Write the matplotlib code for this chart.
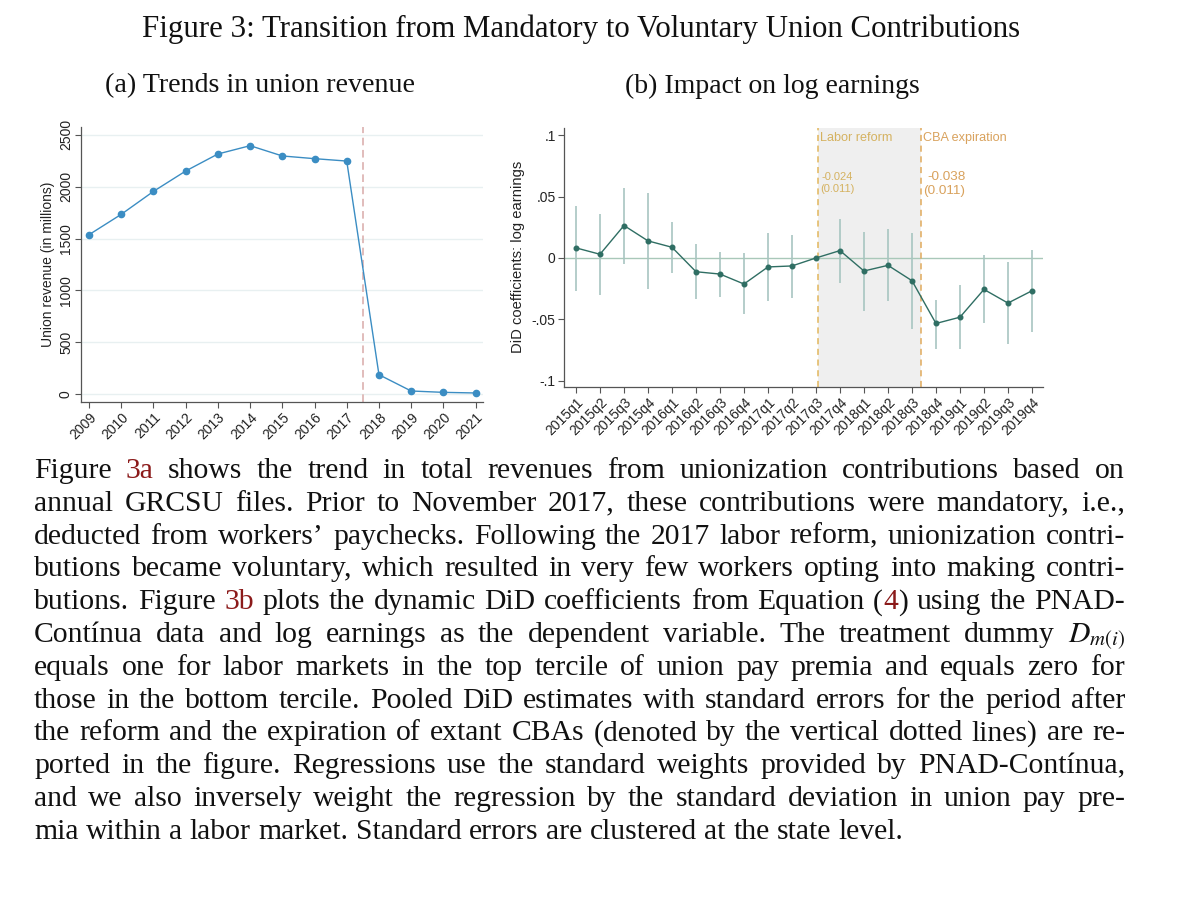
import re
import matplotlib
matplotlib.use("Agg")
import matplotlib.pyplot as plt
import numpy as np

# panel (a): union revenue by year (millions)
years = [2009, 2010, 2011, 2012, 2013, 2014, 2015, 2016, 2017, 2018, 2019, 2020, 2021]
revenue = [1537, 1733, 1954, 2150, 2314, 2394, 2295, 2269, 2246, 189, 32, 19, 13]

# panel (b): dynamic DiD coefficients with confidence bands
quarters = ["2015q1", "2015q2", "2015q3", "2015q4", "2016q1", "2016q2", "2016q3", "2016q4",
            "2017q1", "2017q2", "2017q3", "2017q4", "2018q1", "2018q2", "2018q3", "2018q4",
            "2019q1", "2019q2", "2019q3", "2019q4"]
did_coef = [0.0082, 0.0030, 0.0264, 0.0139, 0.0087, -0.0112, -0.0131, -0.0212, -0.0073, -0.0065,
            0.0, 0.0060, -0.0106, -0.0060, -0.0185, -0.0533, -0.0482, -0.0256, -0.0367, -0.0267]
did_hi = [0.0424, 0.0360, 0.0570, 0.0530, 0.0290, 0.0114, 0.0046, 0.0038, 0.0200, 0.0190,
          0.0, 0.0320, 0.0215, 0.0237, 0.0207, -0.0340, -0.0223, 0.0027, -0.0035, 0.0065]
did_lo = [-0.0269, -0.0300, -0.0046, -0.0256, -0.0125, -0.0337, -0.0316, -0.0460, -0.0354, -0.0324,
          0.0, -0.0204, -0.0430, -0.0350, -0.0574, -0.0737, -0.0740, -0.0533, -0.0700, -0.0600]
reform_x = 10.07
cba_x = 14.38
pooled = [("-0.024", "(0.011)"), ("-0.038", "(0.011)")]

title = "Figure 3: Transition from Mandatory to Voluntary Union Contributions"
sub_a = "(a) Trends in union revenue"
sub_b = "(b) Impact on log earnings"

# caption lines, [..] marks the red cross-reference parts
caption = [
    "Figure [3a] shows the trend in total revenues from unionization contributions based on",
    "annual GRCSU files.  Prior to November 2017, these contributions were mandatory, i.e.,",
    "deducted from workers\u2019 paychecks. Following the 2017 labor reform, unionization contri-",
    "butions became voluntary, which resulted in very few workers opting into making contri-",
    "butions. Figure [3b] plots the dynamic DiD coefficients from Equation ([4]) using the PNAD-",
    "Cont\u00ednua data and log earnings as the dependent variable.  The treatment dummy $D_{m(i)}$",
    "equals one for labor markets in the top tercile of union pay premia and equals zero for",
    "those in the bottom tercile. Pooled DiD estimates with standard errors for the period after",
    "the reform and the expiration of extant CBAs (denoted by the vertical dotted lines) are re-",
    "ported in the figure. Regressions use the standard weights provided by PNAD-Cont\u00ednua,",
    "and we also inversely weight the regression by the standard deviation in union pay pre-",
    "mia within a labor market. Standard errors are clustered at the state level.",
]

W, H = 1200, 906
plt.rcParams['font.family'] = ['Liberation Sans', 'DejaVu Sans']
plt.rcParams['mathtext.fontset'] = 'stix'
SERIF = ['Liberation Serif', 'DejaVu Serif']
fig = plt.figure(figsize=(12, 9.06), dpi=100)


def px_axes(l, t, r, b):
    return fig.add_axes([l / W, 1 - b / H, (r - l) / W, (b - t) / H])


def style_axes(ax):
    for s in ["top", "right"]:
        ax.spines[s].set_visible(False)
    for s in ["left", "bottom"]:
        ax.spines[s].set_color("#555555")
        ax.spines[s].set_linewidth(0.9)
    ax.tick_params(direction="out", length=4, width=0.8, color="#555555",
                   labelsize=10, labelcolor="#222222", pad=2)


# ---- panel (a)
ax1 = px_axes(81.3, 127.3, 483, 401.7)
style_axes(ax1)
ax1.yaxis.grid(True, color="#e8f0f1", lw=1.0)
ax1.set_axisbelow(True)
ax1.plot(years, revenue, "-o", color="#3b8dc3", lw=1.0, ms=4.5, zorder=3)
ax1.axvline(2017.5, color="#d8aaa8", ls=(0, (5, 3)), lw=1.1)
ax1.set_xlim(2008.76, 2021.23)
ax1.set_ylim(-71, 2571)
ax1.set_xticks(years)
ax1.set_xticklabels([str(y) for y in years], rotation=45, ha="right", rotation_mode="anchor")
ax1.set_yticks([0, 500, 1000, 1500, 2000, 2500])
ax1.set_yticklabels(["0", "500", "1000", "1500", "2000", "2500"], rotation=90, va="center")
ax1.set_ylabel("Union revenue (in millions)", fontsize=10, color="#222222", labelpad=3)

# ---- panel (b)
ax2 = px_axes(564, 127.7, 1043, 387)
style_axes(ax2)
xq = np.arange(len(quarters))
ax2.axvspan(reform_x, cba_x, color="#efefef", lw=0, zorder=0)
ax2.axhline(0, color="#a9c8b9", lw=1.0, zorder=1)
ax2.vlines(xq, did_lo, did_hi, color="#a8c5c1", lw=1.2, zorder=2)
ax2.plot(xq, did_coef, "-o", color="#2f6e63", lw=1.0, ms=3.3, zorder=3)
ax2.axvline(reform_x, color="#e2b65c", ls=(0, (4, 3)), lw=1.1, zorder=2)
ax2.axvline(cba_x, color="#e0aa5c", ls=(0, (4, 3)), lw=1.1, zorder=2)
ax2.set_xlim(-0.5, 19.46)
ax2.set_ylim(-0.105, 0.106)
ax2.set_xticks(xq)
ax2.set_xticklabels(quarters, rotation=45, ha="right", rotation_mode="anchor")
ax2.set_yticks([-0.1, -0.05, 0, 0.05, 0.1])
ax2.set_yticklabels(["-.1", "-.05", "0", ".05", ".1"])
ax2.set_ylabel("DiD coefficients: log earnings", fontsize=10.6, color="#222222", labelpad=5)

ax2.text(reform_x + 0.08, 0.098, "Labor reform", color="#d5b260", fontsize=9.1, va="center")
ax2.text(cba_x + 0.08, 0.0975, "CBA expiration", color="#d9a25d", fontsize=9.1, va="center")
ax2.text(reform_x + 0.17, 0.0658, pooled[0][0], color="#d5b260", fontsize=8.0, va="center")
ax2.text(reform_x + 0.1, 0.0560, pooled[0][1], color="#d5b260", fontsize=8.0, va="center")
ax2.text(cba_x + 0.25, 0.0660, pooled[1][0], color="#d9a25d", fontsize=9.7, va="center")
ax2.text(cba_x + 0.08, 0.0547, pooled[1][1], color="#d9a25d", fontsize=9.7, va="center")

# ---- headings, sized to the widths in the page
renderer = fig.canvas.get_renderer()


def fit_text(s, x0, x1, yc, base=20):
    t = fig.text(x0 / W, 1 - yc / H, s, family=SERIF, fontsize=base, va="center", ha="left",
                 color="#111111")
    w = t.get_window_extent(renderer).width
    t.set_fontsize(base * (x1 - x0) / w)
    return t


fit_text(title, 142, 1022, 29)
fit_text(sub_a, 105, 415, 86)
fit_text(sub_b, 625, 920, 86)

# ---- justified caption
RED = "#8b1a1a"
left, right = 34, 1125
base0, lead = 478, 32.8


def segments(word):
    out = []
    for part in re.split(r"(\[[^\]]*\])", word):
        if not part:
            continue
        if part.startswith("["):
            out.append((part[1:-1], RED))
        else:
            out.append((part, "#111111"))
    return out


def width_of(s, size):
    t = fig.text(0, 0, s, family=SERIF, fontsize=size)
    w = t.get_window_extent(renderer).width
    t.remove()
    return w


size0 = 20
space0 = width_of("a a", size0) - width_of("aa", size0)
words_per_line = [ln.split() for ln in caption]
natural = []
for words in words_per_line:
    wsum = sum(width_of(s, size0) for w in words for s, _ in segments(w))
    natural.append(wsum + space0 * (len(words) - 1))
size = size0 * min((right - left) / n for n in natural[:-1]) * 0.985

for i, words in enumerate(words_per_line):
    widths = [[width_of(s, size) for s, _ in segments(w)] for w in words]
    total = sum(sum(ws) for ws in widths)
    last = i == len(words_per_line) - 1
    gap = (size / size0) * space0 if last else (right - left - total) / (len(words) - 1)
    x = left
    y = 1 - (base0 + i * lead) / H
    for w, ws in zip(words, widths):
        for (s, c), sw in zip(segments(w), ws):
            fig.text(x / W, y, s, family=SERIF, fontsize=size, color=c, va="baseline")
            x += sw
        x += gap

fig.savefig("out.png", dpi=100)
